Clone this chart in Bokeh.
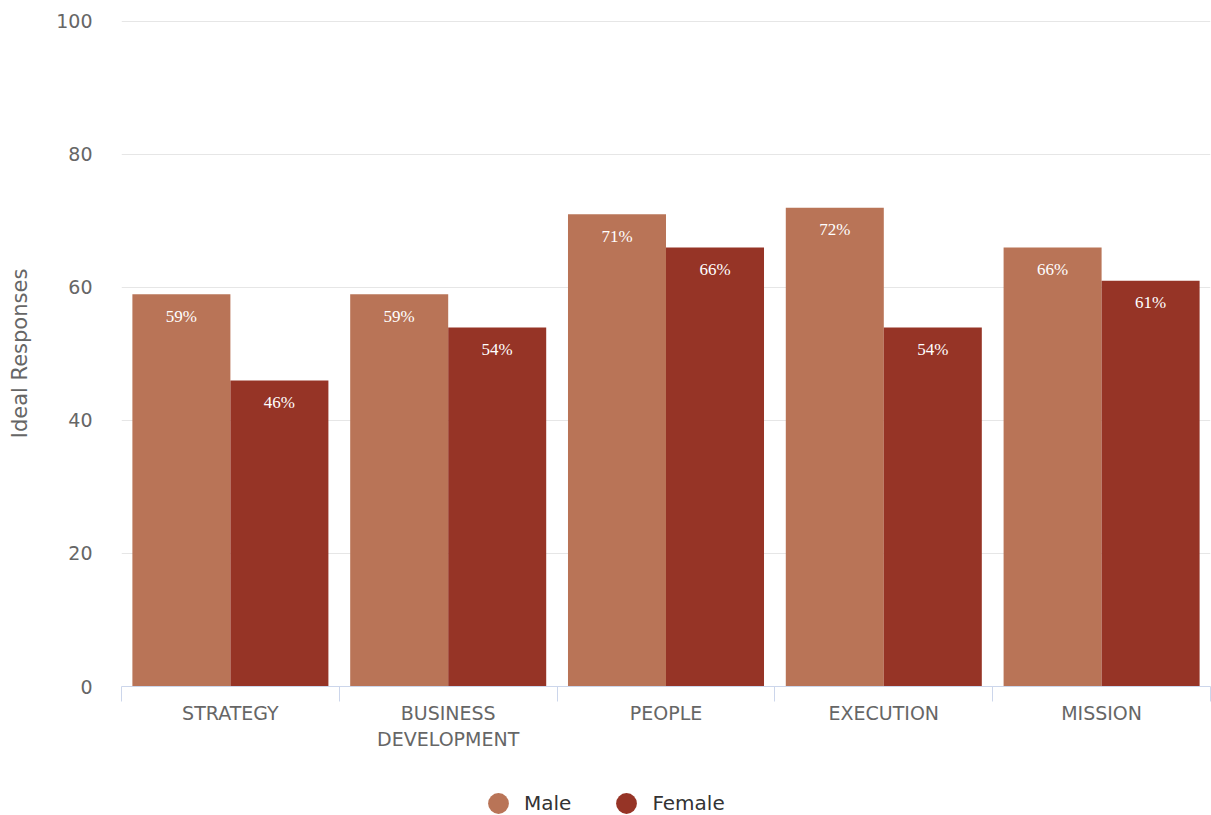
from bokeh.plotting import figure
from bokeh.layouts import column
from bokeh.models import (ColumnDataSource, FixedTicker, Legend, LegendItem, LabelSet, Range1d)
from bokeh.core.properties import value
from bokeh.embed import file_html
from bokeh.resources import INLINE

categories = ["STRATEGY", "BUSINESS\nDEVELOPMENT", "PEOPLE", "EXECUTION", "MISSION"]
male = [59, 59, 71, 72, 66]
female = [46, 54, 66, 54, 61]
y_ticks = [0, 20, 40, 60, 80, 100]

MALE_C = "#B97457"
FEMALE_C = "#963426"
FONT = "DejaVu Sans"

n = len(categories)
centers = [i + 0.5 for i in range(n)]
bw = 0.45
src_m = ColumnDataSource(dict(x=[c - bw / 2 for c in centers], top=male,
                              lab=[f"{v}%" for v in male]))
src_f = ColumnDataSource(dict(x=[c + bw / 2 for c in centers], top=female,
                              lab=[f"{v}%" for v in female]))

p = figure(width=1211, height=762, output_backend="svg", toolbar_location=None,
           x_range=Range1d(0, n), y_range=Range1d(0, 100.15),
           min_border_left=121, min_border_right=1, min_border_top=20, min_border_bottom=76)
p.outline_line_color = None
p.background_fill_color = "white"
p.border_fill_color = "white"

rm = p.vbar(x="x", top="top", width=bw, bottom=0, source=src_m, color=MALE_C, line_color=None)
rf = p.vbar(x="x", top="top", width=bw, bottom=0, source=src_f, color=FEMALE_C, line_color=None)

for s in (src_m, src_f):
    p.add_layout(LabelSet(x="x", y="top", text="lab", source=s, y_offset=-22,
                          text_align="center", text_baseline="middle",
                          text_color="white", text_font=value("Liberation Serif"),
                          text_font_size="17px"))

# x axis
xa = p.xaxis[0]
xa.ticker = FixedTicker(ticks=centers, minor_ticks=list(range(n + 1)))
xa.major_label_overrides = {c: cat for c, cat in zip(centers, categories)}
xa.major_tick_line_color = None
xa.major_tick_out = 0
xa.major_tick_in = 0
xa.minor_tick_line_color = "#ccd6eb"
xa.minor_tick_out = 15
xa.minor_tick_in = 0
xa.axis_line_color = "#ccd6eb"
xa.major_label_text_font = FONT
xa.major_label_text_font_size = "19px"
xa.major_label_text_color = "#666666"
xa.major_label_standoff = 0

# y axis
ya = p.yaxis[0]
ya.ticker = FixedTicker(ticks=y_ticks)
ya.axis_line_color = None
ya.major_tick_line_color = None
ya.minor_tick_line_color = None
ya.major_label_text_font = FONT
ya.major_label_text_font_size = "19px"
ya.major_label_text_color = "#666666"
ya.major_label_standoff = 23
ya.axis_label = "Ideal Responses"
ya.axis_label_text_font = FONT
ya.axis_label_text_font_size = "21px"
ya.axis_label_text_font_style = "normal"
ya.axis_label_text_color = "#666666"
ya.axis_label_standoff = 21

p.xgrid.grid_line_color = None
p.ygrid.ticker = FixedTicker(ticks=y_ticks)
p.ygrid.grid_line_color = "#e6e6e6"
p.ygrid.grid_line_width = 1

# legend row in its own small figure (its frame is aligned with the main one)
lg = figure(width=1211, height=53, output_backend="svg", toolbar_location=None,
            x_range=Range1d(0, 1), y_range=Range1d(0, 1),
            min_border_left=0, min_border_right=0, min_border_top=0, min_border_bottom=0)
lg.axis.visible = False
lg.grid.visible = False
lg.outline_line_color = None
lg.border_fill_color = "white"
dm = lg.scatter(x=[-5], y=[-5], marker="circle", size=21, color=MALE_C, line_color=None)
df = lg.scatter(x=[-5], y=[-5], marker="circle", size=21, color=FEMALE_C, line_color=None)
legend = Legend(items=[LegendItem(label="Male", renderers=[dm]),
                       LegendItem(label="Female", renderers=[df])],
                orientation="horizontal", location=(351, -14),
                label_text_font=FONT, label_text_font_size="20px",
                label_text_color="#333333", border_line_color=None,
                background_fill_alpha=0, spacing=29, glyph_width=52, glyph_height=52,
                label_standoff=0, padding=0, margin=0)
lg.add_layout(legend, "center")

open("out.html", "w").write(file_html(column(p, lg, spacing=0), INLINE))
